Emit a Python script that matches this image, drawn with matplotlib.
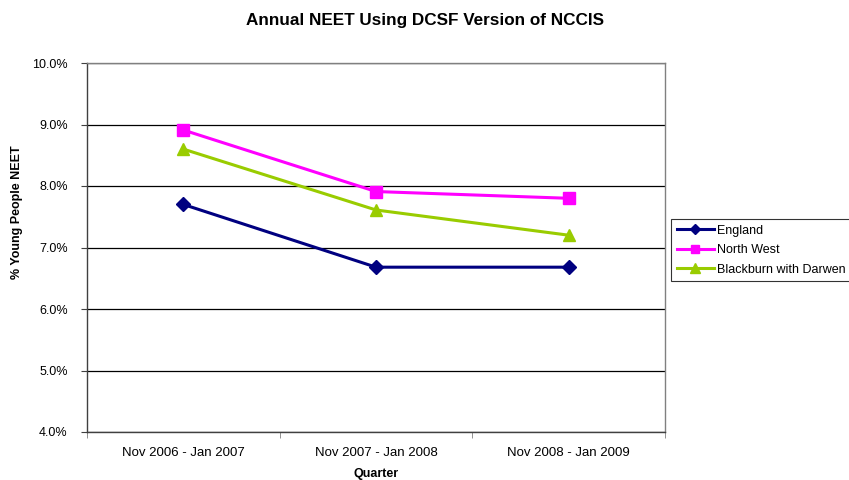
import matplotlib
matplotlib.use("Agg")
import matplotlib.pyplot as plt
from matplotlib.ticker import FuncFormatter, FixedLocator

plt.rcParams['font.family'] = ['Liberation Sans', 'DejaVu Sans']

categories = ["Nov 2006 - Jan 2007", "Nov 2007 - Jan 2008", "Nov 2008 - Jan 2009"]
england = [7.70, 6.68, 6.68]
north_west = [8.91, 7.91, 7.80]
blackburn = [8.60, 7.61, 7.20]

fig = plt.figure(figsize=(8.49, 4.8), dpi=100)
ax = fig.add_axes([87/849, 48/480, (665-87)/849, (432-63)/480])

x = list(range(len(categories)))
ax.plot(x, england, color="#000080", lw=2.2, marker="D", ms=7, label="England", zorder=3)
ax.plot(x, north_west, color="#FF00FF", lw=2.2, marker="s", ms=8, label="North West", zorder=3)
ax.plot(x, blackburn, color="#99CC00", lw=2.2, marker="^", ms=9, label="Blackburn with Darwen", zorder=3)

ax.set_xlim(-0.5, 2.5)
ax.set_ylim(4, 10)
ax.set_yticks([4, 5, 6, 7, 8, 9, 10])
ax.yaxis.set_major_formatter(FuncFormatter(lambda v, p: f"{v:.1f}%"))
ax.set_xticks(x)
ax.set_xticklabels(categories)
ax.xaxis.set_minor_locator(FixedLocator([-0.5, 0.5, 1.5, 2.5]))
ax.tick_params(axis='x', which='major', length=0, labelsize=9.5, pad=11)
ax.tick_params(axis='x', which='minor', length=4, direction='out', color='#808080')
ax.tick_params(axis='y', length=4, direction='out', labelsize=9, color='#404040', pad=10)

ax.grid(axis='y', color='black', lw=0.9, zorder=0)
for s in ax.spines.values():
    s.set_color('#808080')
    s.set_linewidth(1.0)
ax.spines['left'].set_color('#404040')
ax.spines['bottom'].set_color('#404040')

fig.text(376/849, 1 - 474/480, "Quarter", ha='center', va='center', fontsize=9, fontweight='bold')
fig.text(17/849, 1 - 212/480, "% Young People NEET", ha='center', va='center', rotation=90,
         fontsize=9, fontweight='bold')
fig.text(0.5, 1 - 20/480, "Annual NEET Using DCSF Version of NCCIS", ha='center', va='center',
         fontsize=12.3, fontweight='bold')

leg = fig.legend(loc='upper left', bbox_to_anchor=(671/849, 1 - 219/480), fontsize=9,
                 frameon=True, fancybox=False, edgecolor='black', borderpad=0.45,
                 handlelength=3.0, handletextpad=0.2, labelspacing=0.6, borderaxespad=0,
                 markerscale=0.75)
leg.get_frame().set_linewidth(0.8)

fig.savefig("out.png", dpi=100)
